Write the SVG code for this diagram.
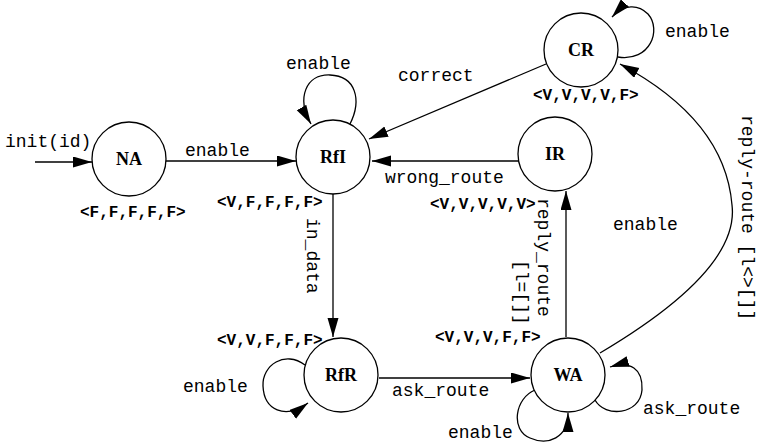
<svg xmlns="http://www.w3.org/2000/svg" width="757" height="445" viewBox="0 0 757 445">
<defs>
<marker id="ah" markerUnits="userSpaceOnUse" markerWidth="20" markerHeight="12" refX="19" refY="5.5" orient="auto">
<path d="M0,0 L19,5.5 L0,11 z" fill="#000"/>
</marker>
<style>
.n{fill:#fff;stroke:#000;stroke-width:1.3}
.nl{font-family:"Liberation Serif",serif;font-weight:bold;font-size:18px;text-anchor:middle}
.st{font-family:"Liberation Mono",monospace;font-weight:bold;font-size:16px}
.lb{font-family:"Liberation Mono",monospace;font-size:18px}
.e{fill:none;stroke:#000;stroke-width:1.3;marker-end:url(#ah)}
</style>
</defs>
<rect width="757" height="445" fill="#fff"/>
<g id="connectors">
<path class="e" d="M35,162 L92,162"/>
<path class="e" d="M166,161 L296,161"/>
<path class="e" d="M350,124 C362,100 356,76 330,75 C306,74 296,98 311,124"/>
<path class="e" d="M518,161 L372,161"/>
<path class="e" d="M546,64 L369,139"/>
<path class="e" d="M618,57 C650,62 662,30 648,14 C638,4 624,4 612,17"/>
<path class="e" d="M333,194 L333,337"/>
<path class="e" d="M305,365 C285,350 262,365 263,386 C264,410 285,420 308,403"/>
<path class="e" d="M379,378 L530,378"/>
<path class="e" d="M535,390 C515,398 510,430 530,438 C548,446 568,438 568,413"/>
<path class="e" d="M595,400 C605,418 640,415 642,390 C643,368 630,361 610,367"/>
<path class="e" d="M566,337 L566,191"/>
<path class="e" d="M600,353 Q740,270 732,205 Q725,120 620,64"/>
<text class="lb" x="5" y="147">init(id)</text>
<text class="lb" x="185" y="156">enable</text>
<text class="lb" x="286" y="69">enable</text>
<text class="lb" x="398" y="81">correct</text>
<text class="lb" x="665" y="37">enable</text>
<text class="lb" x="385" y="183">wrong_route</text>
<text class="lb" transform="translate(307,218) rotate(90)">in_data</text>
<text class="lb" x="183" y="392">enable</text>
<text class="lb" x="392" y="396">ask_route</text>
<text class="lb" x="448" y="438">enable</text>
<text class="lb" x="643" y="414">ask_route</text>
<text class="lb" x="613" y="230">enable</text>
<text class="lb" transform="translate(538,198) rotate(90)">reply_route</text>
<text class="lb" transform="translate(516,260) rotate(90)">[l=[]]</text>
<text class="lb" transform="translate(742,115) rotate(90)">reply-route [l&lt;&gt;[]]</text>
</g>
<g id="NA"><circle class="n" cx="129" cy="159" r="37"/><text class="nl" x="129" y="165">NA</text><text class="st" x="80" y="217">&lt;F,F,F,F,F&gt;</text></g>
<g id="RfI"><circle class="n" cx="333" cy="157" r="37"/><text class="nl" x="333" y="163">RfI</text><text class="st" x="217" y="207">&lt;V,F,F,F,F&gt;</text></g>
<g id="IR"><circle class="n" cx="555" cy="154" r="37"/><text class="nl" x="555" y="160">IR</text><text class="st" x="430" y="209">&lt;V,V,V,V,V&gt;</text></g>
<g id="CR"><circle class="n" cx="581" cy="50" r="37"/><text class="nl" x="581" y="56">CR</text><text class="st" x="533" y="100">&lt;V,V,V,V,F&gt;</text></g>
<g id="RfR"><circle class="n" cx="341" cy="375" r="37"/><text class="nl" x="341" y="381">RfR</text><text class="st" x="217" y="345">&lt;V,V,F,F,F&gt;</text></g>
<g id="WA"><circle class="n" cx="568" cy="375" r="37"/><text class="nl" x="568" y="381">WA</text><text class="st" x="435" y="342">&lt;V,V,V,F,F&gt;</text></g>
</svg>
